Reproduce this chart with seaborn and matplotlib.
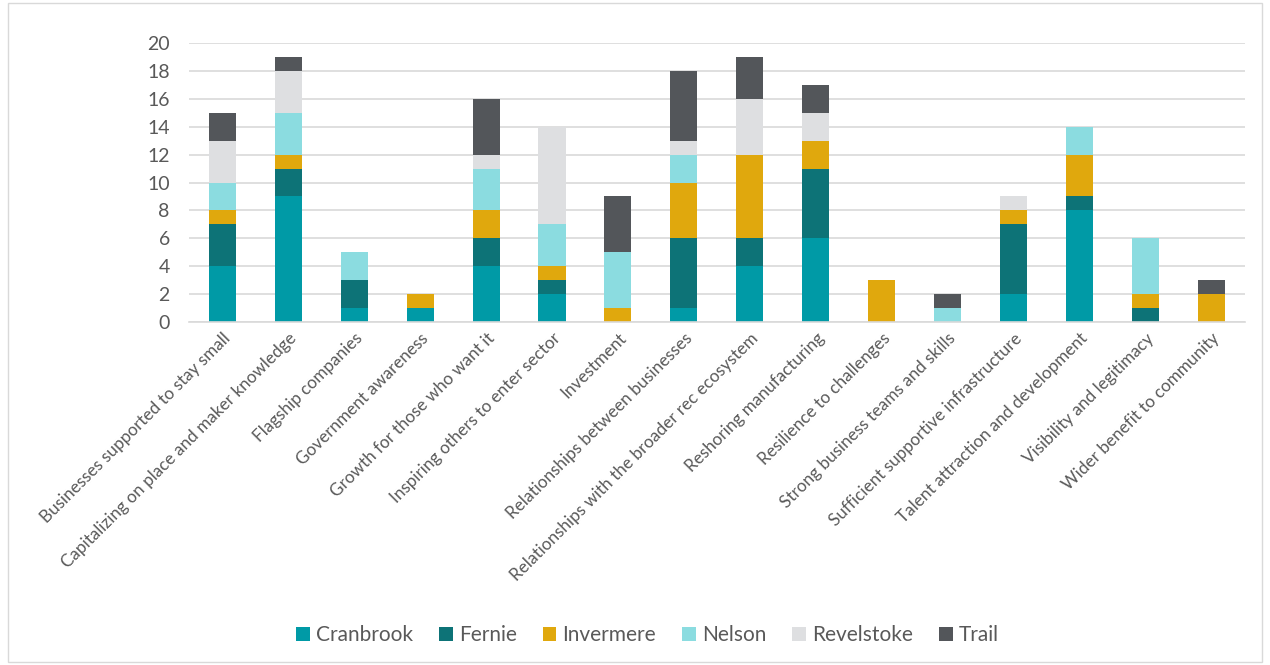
import numpy as np
import pandas as pd
import matplotlib
matplotlib.use("Agg")
import matplotlib.pyplot as plt
from matplotlib.patches import Patch, Rectangle
import seaborn as sns

# categories on the x axis
themes = [
    "Businesses supported to stay small",
    "Capitalizing on place and maker knowledge",
    "Flagship companies",
    "Government awareness",
    "Growth for those who want it",
    "Inspiring others to enter sector",
    "Investment",
    "Relationships between businesses",
    "Relationships with the broader rec ecosystem",
    "Reshoring manufacturing",
    "Resilience to challenges",
    "Strong business teams and skills",
    "Sufficient supportive infrastructure",
    "Talent attraction and development",
    "Visibility and legitimacy",
    "Wider benefit to community",
]

# counts per community
cranbrook = [4, 9, 1, 1, 4, 2, 0, 1, 4, 6, 0, 0, 2, 8, 0, 0]
fernie = [3, 2, 2, 0, 2, 1, 0, 5, 2, 5, 0, 0, 5, 1, 1, 0]
invermere = [1, 1, 0, 1, 2, 1, 1, 4, 6, 2, 3, 0, 1, 3, 1, 2]
nelson = [2, 3, 2, 0, 3, 3, 4, 2, 0, 0, 0, 1, 0, 2, 4, 0]
revelstoke = [3, 3, 0, 0, 1, 7, 0, 1, 4, 2, 0, 0, 1, 0, 0, 0]
trail = [2, 1, 0, 0, 4, 0, 4, 5, 3, 2, 0, 1, 0, 0, 0, 1]

communities = ["Cranbrook", "Fernie", "Invermere", "Nelson", "Revelstoke", "Trail"]
colors = ["#009AA6", "#0D7377", "#E0A80D", "#8BDCE0", "#DEDFE1", "#53565A"]

df = pd.DataFrame({"theme": themes, "Cranbrook": cranbrook, "Fernie": fernie,
                   "Invermere": invermere, "Nelson": nelson,
                   "Revelstoke": revelstoke, "Trail": trail})

sns.set_theme(style="white")
plt.rcParams["font.family"] = ["Lato", "DejaVu Sans"]

fig = plt.figure(figsize=(12.7, 6.65), dpi=100)
ax = fig.add_axes([0.149, 0.516, 0.831, 0.419])

# stacked bars: draw cumulative totals from the top series down
cum = df[communities].cumsum(axis=1)
for name, col in reversed(list(zip(communities, colors))):
    sns.barplot(x=df["theme"], y=cum[name], color=col, width=0.41,
                saturation=1, linewidth=0, ax=ax, order=themes)

ax.set_ylim(0, 20)
ax.set_yticks(range(0, 21, 2))
ax.set_xlim(-0.5, len(themes) - 0.5)
ax.yaxis.grid(True, color="#D9D9D9", linewidth=1.2)
ax.set_axisbelow(True)
for s in ["top", "right", "left"]:
    ax.spines[s].set_visible(False)
ax.spines["bottom"].set_color("#D9D9D9")
ax.spines["bottom"].set_linewidth(1.2)
ax.set_xlabel("")
ax.set_ylabel("")
ax.tick_params(axis="both", length=0, colors="#595959")
ax.tick_params(axis="y", labelsize=14, pad=14)
ax.set_xticks(range(len(themes)))
ax.set_xticklabels(themes, rotation=45, ha="right", rotation_mode="anchor",
                   fontsize=12.3, color="#595959")
ax.tick_params(axis="x", pad=6)

handles = [Patch(facecolor=c, edgecolor="none", label=n) for n, c in zip(communities, colors)]
fig.legend(handles=handles, loc="center", bbox_to_anchor=(0.51, 0.045), ncol=6,
           frameon=False, fontsize=15, handlelength=0.65, handleheight=0.65,
           handletextpad=0.3, columnspacing=1.25, labelcolor="#595959")

fig.patches.append(Rectangle((0.006, 0.004), 0.988, 0.992, transform=fig.transFigure,
                             fill=False, edgecolor="#D9D9D9", linewidth=1))

fig.savefig("out.png", dpi=100)
plt.close()
